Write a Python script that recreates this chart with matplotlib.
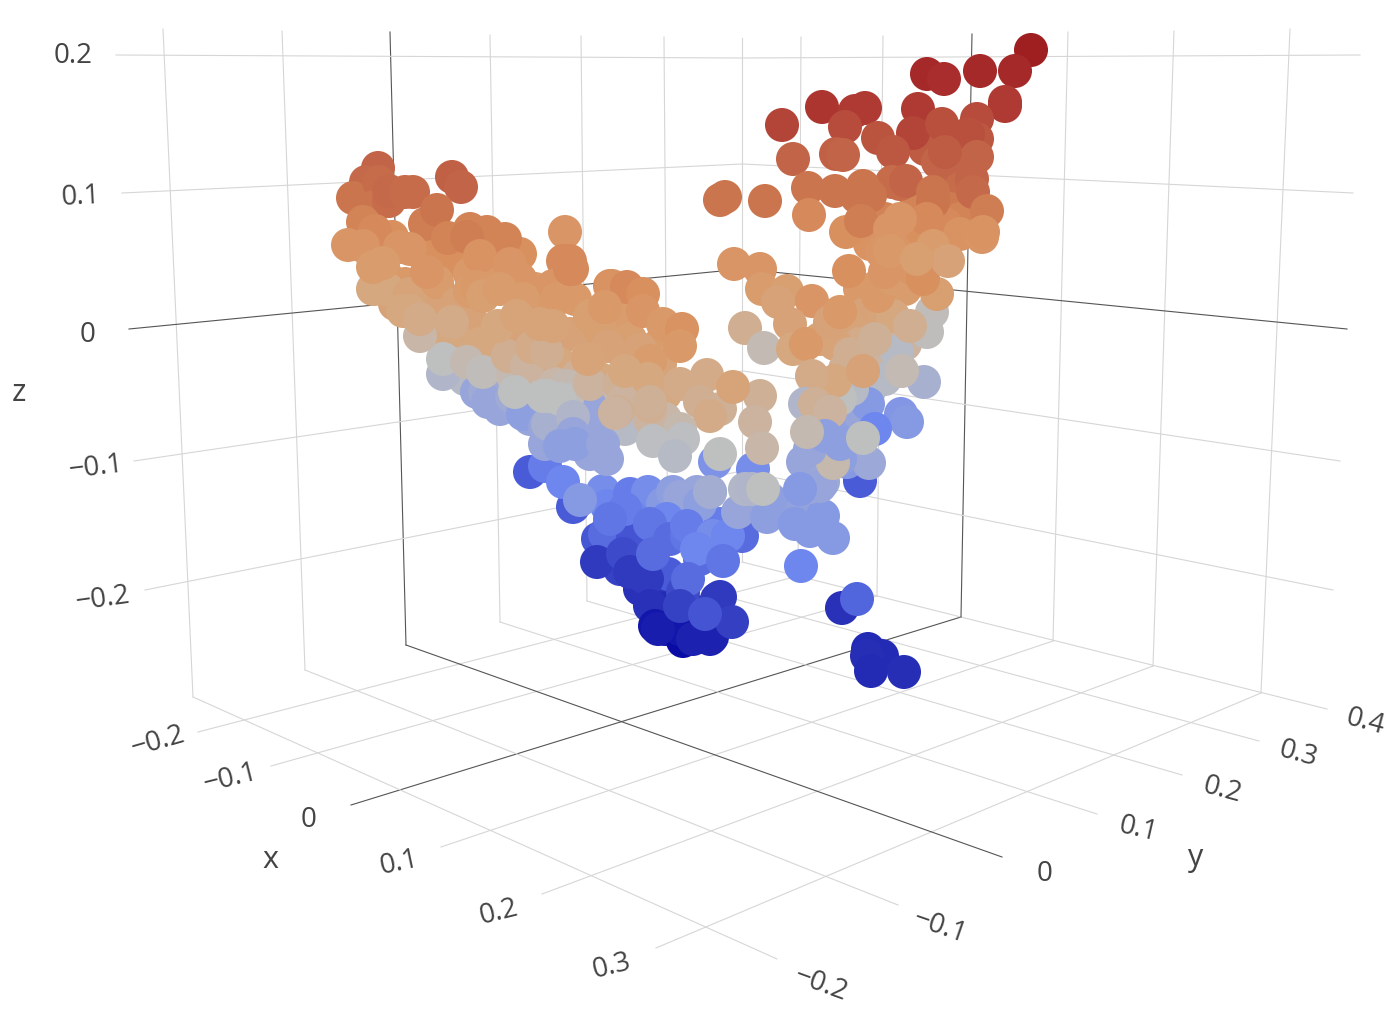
import matplotlib
matplotlib.use('Agg')
import matplotlib.pyplot as plt
from matplotlib.colors import LinearSegmentedColormap, Normalize

# The original is a 3D scatter. Depth cannot be read off one picture, so each point
# is kept as its projected position on the picture plane plus its z value (from the colour).
# Lists run back to front, since later points cover earlier ones.

left_fill = [
    (392,238,.08),(430,245,.08),(450,262,.08),(490,250,.08),(520,255,.08),
    (385,275,.065),(405,285,.065),(440,295,.065),(470,275,.065),(500,275,.065),(535,290,.065),(545,305,.065),(575,300,.065),
    (395,305,.05),(430,310,.05),(470,320,.05),(480,330,.05),(510,340,.05),(530,330,.05),(570,335,.05),(590,345,.05),(625,330,.06),(660,345,.06),
    (430,330,.04),(455,340,.04),(480,345,.04),(500,355,.04),(540,365,.04),(560,365,.04),(600,380,.04),(630,390,.04),(665,395,.04),
    (455,365,.015),(495,385,.015),(530,385,.015),(555,385,.015),(590,395,.015),(615,395,.015),(640,420,.015),(665,420,.015),
    (465,380,-.01),(540,410,-.01),(560,415,-.01),(590,420,-.01),(625,430,-.01),
    (500,410,-.05),(530,420,-.05),(555,435,-.05),(590,430,-.05),(590,455,-.05),(545,445,-.05),
]
left_arm = [
    (378,169,.125),(366,183,.12),(353,199,.105),(379,183,.115),(374,208,.105),(389,202,.115),(389,192,.12),
    (405,193,.115),(413,193,.115),(452,178,.13),(461,188,.125),(425,225,.095),(437,211,.105),(363,223,.09),(375,232,.085),
    (348,246,.07),(363,247,.07),(400,248,.07),(410,250,.07),(470,230,.09),(487,233,.09),(505,240,.09),(448,239,.09),(467,238,.095),
    (480,257,.075),(510,265,.07),(520,280,.07),(565,233,.07),(563,262,.085),(570,262,.085),(572,270,.085),(553,287,.07),(557,300,.065),
    (373,290,.04),(387,290,.04),(373,268,.06),(383,264,.06),(410,295,.045),(437,283,.06),(427,273,.07),(403,312,.04),(410,312,.04),
    (457,305,.05),(470,292,.06),(477,288,.065),(483,297,.055),(500,290,.06),(523,300,.06),
    (420,337,.015),(420,320,.035),(452,323,.035),(498,327,.04),(517,317,.045),(540,325,.045),(553,327,.045),(590,317,.055),(607,308,.06),
    (610,287,.08),(620,290,.085),(570,270,.085),
]
left_lower = [
    (443,375,-.02),(477,393,-.05),(485,393,-.04),(488,403,-.05),(513,403,-.05),(512,398,-.04),(523,415,-.06),(590,407,-.05),
    (545,428,-.05),(548,425,-.03),(443,360,0),(467,363,.01),(483,373,.005),(513,377,.01),(508,357,.03),(527,367,.02),(532,348,.035),
    (547,353,.03),(587,360,.04),(608,347,.045),(578,377,.025),(567,387,.01),(547,397,0),(515,393,0),(543,397,0),(567,400,.005),(560,400,0),
    (573,418,-.02),(573,435,-.05),(560,447,-.06),(575,445,-.06),(603,445,-.05),(607,460,-.05),
]
centre_fill = [
    (625,320,.06),(630,340,.055),(600,330,.055),(660,365,.045),(640,350,.05),(590,385,.02),(620,385,.025),(650,420,.02),(625,400,.02),
]
centre_left = [
    (612,287,.075),(627,288,.085),(643,295,.08),(605,308,.065),(643,312,.07),(663,325,.065),(682,330,.075),(680,347,.065),(608,347,.05),
    (588,360,.045),(650,362,.06),(625,372,.04),(648,380,.04),(617,413,.03),(650,407,.03),(680,385,.035),(707,376,.035),
    (760,397,.025),(650,403,.025),(615,414,.02),(700,403,.03),(720,410,.025),(733,388,.045),(710,417,.035),(755,423,.02),(762,449,.015),
    (680,430,.012),(653,442,-.002),(683,440,-.002),(675,457,-.01),
]
right_fill = [
    (925,150,.135),(955,170,.125),(960,190,.115),(950,210,.1),(915,210,.09),(885,220,.09),(905,245,.07),(870,245,.075),(925,265,.06),
    (880,285,.06),(860,290,.065),(905,290,.06),(930,235,.08),(960,220,.09),(945,225,.085),(865,315,.05),(850,330,.045),(860,345,.035),
    (885,320,.045),(835,345,.045),(820,340,.045),(875,365,.02),(890,340,.02),(845,370,.03),(870,390,0),(885,380,-.01),(905,345,.02),(850,355,.03),
    (850,430,-.06),(840,445,-.06),(860,415,-.05),(800,490,-.07),(810,450,-.05),
]
centre_right = [
    (734,265,.07),(760,270,.07),(762,290,.06),(787,292,.055),(778,303,.05),(812,302,.07),(790,325,.05),(745,329,.03),(764,349,.008),
    (793,350,.04),(806,345,.065),(830,323,.05),(840,313,.065),
    (932,313,.005),(927,333,.002),(897,353,-.01),(924,383,-.03),(893,317,.04),(910,327,.03),(875,340,.025),(902,372,.008),
    (878,297,.065),(893,280,.06),(885,273,.07),(937,295,.055),(913,270,.07),(849,272,.08),(923,280,.08),
    (868,405,-.07),(901,415,-.075),(907,423,-.07),(875,430,-.1),(852,390,-.01),(840,400,0),(835,382,.04),(812,377,.035),(863,372,.05),
    (805,405,-.02),(815,405,.025),(830,413,.02),(825,437,-.06),(807,433,.01),(863,439,0),
]
right_arm = [
    (1031,51,.21),(927,75,.195),(944,80,.19),(980,72,.195),(1015,72,.195),(1005,103,.175),(1005,107,.175),(822,108,.18),(782,126,.165),
    (855,112,.175),(865,109,.175),(918,110,.175),(845,128,.155),(878,139,.145),(913,134,.165),(942,125,.15),(977,120,.155),(977,140,.14),
    (968,135,.15),(977,158,.125),(938,163,.125),(945,153,.135),(893,153,.14),(793,160,.125),(836,155,.13),(843,156,.125),
    (892,183,.115),(900,185,.115),(906,182,.125),(808,189,.105),(835,192,.105),(863,187,.105),(870,197,.105),(857,198,.105),
    (972,180,.125),(973,193,.12),(933,193,.105),(933,203,.105),(720,201,.105),(725,198,.105),(765,202,.105),(809,216,.085),(846,233,.08),(861,222,.095),
    (987,212,.095),(960,235,.075),(982,238,.07),(983,233,.075),(923,233,.08),(927,220,.085),(900,220,.07),(890,230,.07),
    (933,247,.06),(882,253,.07),(890,252,.065),(948,262,.05),(917,260,.055),
]
blue_middle = [
    (530,473,-.15),(545,467,-.11),(573,508,-.15),(563,483,-.1),(603,492,-.09),(607,507,-.1),(630,495,-.11),(648,493,-.09),(580,501,-.07),(632,518,-.1),
    (663,505,-.07),(673,493,-.06),(680,498,-.05),(697,493,-.05),(710,493,-.04),(598,540,-.155),(605,535,-.13),(633,537,-.16),(667,520,-.1),
    (625,510,-.11),(650,525,-.12),(670,540,-.13),(700,560,-.13),(720,525,-.11),(610,520,-.12),(770,500,-.05),(700,505,-.06),
    (687,537,-.12),(687,527,-.11),(713,537,-.09),(697,550,-.1),(715,463,-.08),(753,470,-.09),(742,537,-.13),(728,537,-.1),(723,562,-.12),
    (738,513,-.05),(767,518,-.06),(792,503,-.06),(802,512,-.055),(823,517,-.07),(795,525,-.07),(810,532,-.07),(833,539,-.07),(801,567,-.1),
    (860,482,-.15),(847,463,-.07),(803,463,-.05),(810,488,-.05),(823,483,-.045),(869,464,-.045),(840,460,-.06),(820,487,-.05),(833,464,.012),
    (710,493,-.035),(745,490,-.015),(752,490,-.02),(763,490,0),(720,455,0),
]
blue_bottom = [
    (640,560,-.16),(620,570,-.18),(660,590,-.2),(665,610,-.21),(640,590,-.2),(690,610,-.19),(700,620,-.2),(668,575,-.15),
    (597,563,-.19),(623,555,-.17),(630,573,-.19),(643,577,-.19),(647,580,-.19),(653,555,-.13),(650,607,-.2),(683,593,-.17),(688,580,-.13),
    (665,630,-.23),(695,628,-.23),
    (683,642,-.25),(680,630,-.235),(655,627,-.235),(658,630,-.225),(710,640,-.22),(710,627,-.2),(693,640,-.22),(712,638,-.22),(680,607,-.18),
    (717,600,-.19),(720,598,-.19),(732,623,-.185),(705,615,-.16),
    (842,609,-.2),(857,600,-.14),(868,650,-.21),(882,657,-.21),(867,657,-.205),(871,672,-.21),(904,673,-.205),
]

x_grid_ends = [(-.2,198,733,798,577),(-.1,271,767,877,597),(0,351,806,961,618),(.1,441,848,1053,642),(.2,542,895,1153,667),(.3,656,949,1261,694)]
y_grid_ends = [(-.2,777,960,193,698),(-.1,898,906,305,671),(0,1002,858,406,646),(.1,1097,815,500,623),(.2,1182,776,587,602),(.3,1259,742,668,582),(.4,1327,710,742,563)]
z_grid_ends = [(.2,116,56,742,59,1360,56),(.1,122,194,742,165,1353,194),(0,129,330,742,270,1347,330),(-.1,134,462,743,372,1340,462),(-.2,145,591,742,472,1333,591)]
left_wall_verticals = [(-.2,163,30,193,698),(-.1,282,32,305,671),(0,390,33,406,646),(.1,490,36,500,623),(.2,581,37,587,602),(.3,664,38,668,582),(.4,742,39,742,563)]
right_wall_verticals = [(-.2,801,38,798,577),(-.1,883,37,877,597),(0,972,35,961,618),(.1,1068,33,1053,642),(.2,1174,32,1153,667),(.3,1290,30,1261,694)]

tick_text = [
    ('0.2',73,56,0),('0.1',81,197,3),('0',88,335,0),('\u22120.1',96,468,7),('\u22120.2',103,599,8),
    ('\u22120.2',158,742,16),('\u22120.1',231,779,14),('0',309,820,0),('0.1',399,863,12),('0.2',499,912,14),('0.3',612,967,14),
    ('0',1045,874,0),('\u22120.1',940,927,-19),('\u22120.2',821,985,-20),('0.1',1138,830,-13),('0.2',1222,790,-15),('0.3',1298,754,-15),('0.4',1365,722,-15),
]
axis_text = [('z',19,393),('x',270,860),('y',1196,858)]

color_stops = [(-.25,'#0a0aa5'),(-.20,'#2a32b8'),(-.15,'#4a5cd8'),(-.10,'#6e87ee'),(-.06,'#8e9fe0'),(-.03,'#a8b0cf'),(0,'#bdbfc0'),
               (.02,'#cbb3a0'),(.04,'#d6a880'),(.06,'#d99c6c'),(.08,'#d9905f'),(.10,'#cd7a50'),(.13,'#c06045'),(.16,'#b5493a'),(.19,'#a82d2c'),(.21,'#9f1f20')]

plt.rcParams['font.family'] = ['Open Sans', 'DejaVu Sans']
fig = plt.figure(figsize=(13.89, 10.2), dpi=100)
ax = fig.add_axes([0, 0, 1, 1])
ax.set_xlim(0, 1389)
ax.set_ylim(1020, 0)
ax.axis('off')

def grid_color(v):
    return '#555555' if v == 0 else '#d6d6d6'

for v, x0, y0, x1, y1 in x_grid_ends + y_grid_ends + left_wall_verticals + right_wall_verticals:
    ax.plot([x0, x1], [y0, y1], color=grid_color(v), lw=0.8, zorder=1)
for v, x0, y0, xm, ym, x1, y1 in z_grid_ends:
    ax.plot([x0, xm, x1], [y0, ym, y1], color=grid_color(v), lw=0.8, zorder=1)

zlo, zhi = color_stops[0][0], color_stops[-1][0]
cmap = LinearSegmentedColormap.from_list('surface', [((v - zlo) / (zhi - zlo), c) for v, c in color_stops])

points = blue_middle + left_fill + left_lower + left_arm + blue_bottom + centre_fill + centre_left + right_fill + centre_right + right_arm
ax.scatter([p[0] for p in points], [p[1] for p in points], c=[p[2] for p in points], cmap=cmap,
           norm=Normalize(zlo, zhi), s=600, linewidths=0, zorder=2)

for label, x, y, rot in tick_text:
    ax.text(x, y, label, color='#444444', fontsize=20, rotation=rot, ha='center', va='center', zorder=3)
for label, x, y in axis_text:
    ax.text(x, y, label, color='#444444', fontsize=22, ha='center', va='center', zorder=3)

fig.savefig('out.png', dpi=100)
